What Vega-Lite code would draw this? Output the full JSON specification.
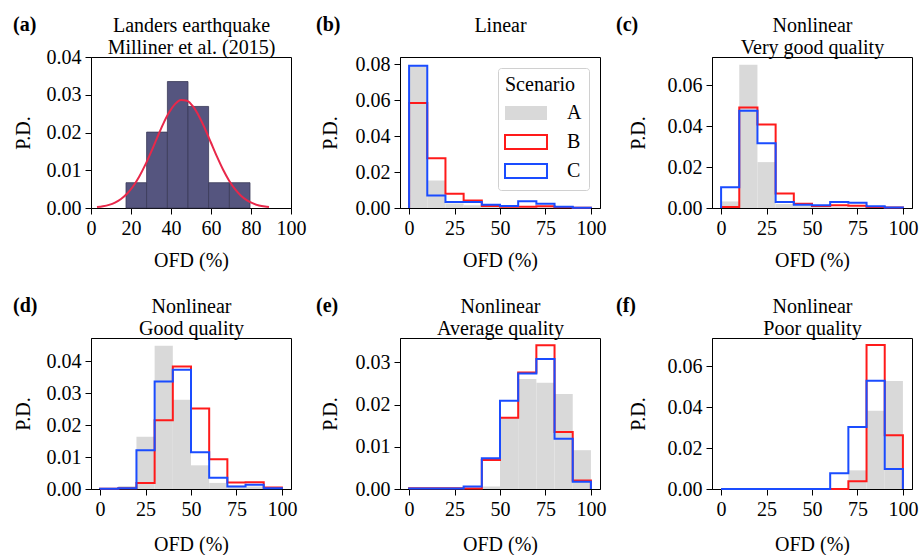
{
  "$schema": "https://vega.github.io/schema/vega-lite/v6.json",
  "padding": {"left": 12, "top": 14, "right": 0, "bottom": 0},
  "columns": 3,
  "spacing": {"row": 24, "column": 8},
  "resolve": {"scale": {"color": "independent", "fill": "independent", "stroke": "independent"}, "legend": {"color": "independent", "fill": "independent", "stroke": "independent"}},
  "datasets": {
    "land": [
      {"x": 17.5, "x2": 27.8, "y": 0.0067},
      {"x": 27.8, "x2": 38.2, "y": 0.0201},
      {"x": 38.2, "x2": 48.5, "y": 0.0335},
      {"x": 48.5, "x2": 58.8, "y": 0.0269},
      {"x": 58.8, "x2": 69.2, "y": 0.0067},
      {"x": 69.2, "x2": 79.5, "y": 0.0067}
    ],
    "curve": [
      {"x": 3, "y": 0.00024}, {"x": 6, "y": 0.00046}, {"x": 9, "y": 0.00083}, {"x": 12, "y": 0.00144},
      {"x": 15, "y": 0.00239}, {"x": 18, "y": 0.00377}, {"x": 21, "y": 0.00569}, {"x": 24, "y": 0.0082},
      {"x": 27, "y": 0.01128}, {"x": 30, "y": 0.0148}, {"x": 33, "y": 0.01853}, {"x": 36, "y": 0.02216},
      {"x": 39, "y": 0.02528}, {"x": 42, "y": 0.02753}, {"x": 45, "y": 0.02863}, {"x": 48, "y": 0.0284},
      {"x": 51, "y": 0.0269}, {"x": 54, "y": 0.02432}, {"x": 57, "y": 0.02099}, {"x": 60, "y": 0.01728},
      {"x": 63, "y": 0.01359}, {"x": 66, "y": 0.01019}, {"x": 69, "y": 0.0073}, {"x": 72, "y": 0.00499},
      {"x": 75, "y": 0.00326}, {"x": 78, "y": 0.00203}, {"x": 81, "y": 0.00121}, {"x": 84, "y": 0.00068},
      {"x": 87, "y": 0.00037}, {"x": 89, "y": 0.00024}
    ],
    "bars": [
      {"p": "b", "x": 0, "x2": 10, "y": 0.0795}, {"p": "b", "x": 10, "x2": 20, "y": 0.0153}, {"p": "b", "x": 20, "x2": 30, "y": 0.0025}, {"p": "b", "x": 30, "x2": 40, "y": 0.0015}, {"p": "b", "x": 40, "x2": 50, "y": 0.0008}, {"p": "b", "x": 50, "x2": 60, "y": 0.0005}, {"p": "b", "x": 60, "x2": 70, "y": 0.0004}, {"p": "b", "x": 70, "x2": 80, "y": 0.0003}, {"p": "b", "x": 80, "x2": 90, "y": 0.0002}, {"p": "b", "x": 90, "x2": 100, "y": 0.0001},
      {"p": "c", "x": 0, "x2": 10, "y": 0.0032}, {"p": "c", "x": 10, "x2": 20, "y": 0.0699}, {"p": "c", "x": 20, "x2": 30, "y": 0.0224}, {"p": "c", "x": 30, "x2": 40, "y": 0.002}, {"p": "c", "x": 40, "x2": 50, "y": 0.0012}, {"p": "c", "x": 50, "x2": 60, "y": 0.0005}, {"p": "c", "x": 60, "x2": 70, "y": 0.0004}, {"p": "c", "x": 70, "x2": 80, "y": 0.0003}, {"p": "c", "x": 80, "x2": 90, "y": 0.0001}, {"p": "c", "x": 90, "x2": 100, "y": 0.0001},
      {"p": "d", "x": 0, "x2": 10, "y": 0.0002}, {"p": "d", "x": 10, "x2": 20, "y": 0.0009}, {"p": "d", "x": 20, "x2": 30, "y": 0.0163}, {"p": "d", "x": 30, "x2": 40, "y": 0.0448}, {"p": "d", "x": 40, "x2": 50, "y": 0.0279}, {"p": "d", "x": 50, "x2": 60, "y": 0.0074}, {"p": "d", "x": 60, "x2": 70, "y": 0.0019}, {"p": "d", "x": 70, "x2": 80, "y": 0.0011}, {"p": "d", "x": 80, "x2": 90, "y": 0.0008}, {"p": "d", "x": 90, "x2": 100, "y": 0.0004},
      {"p": "e", "x": 0, "x2": 10, "y": 0.0001}, {"p": "e", "x": 10, "x2": 20, "y": 0.0001}, {"p": "e", "x": 20, "x2": 30, "y": 0.0001}, {"p": "e", "x": 30, "x2": 40, "y": 0.0003}, {"p": "e", "x": 40, "x2": 50, "y": 0.0006}, {"p": "e", "x": 50, "x2": 60, "y": 0.017}, {"p": "e", "x": 60, "x2": 70, "y": 0.0261}, {"p": "e", "x": 70, "x2": 80, "y": 0.0252}, {"p": "e", "x": 80, "x2": 90, "y": 0.0225}, {"p": "e", "x": 90, "x2": 100, "y": 0.0092},
      {"p": "f", "x": 0, "x2": 10, "y": 0}, {"p": "f", "x": 10, "x2": 20, "y": 0}, {"p": "f", "x": 20, "x2": 30, "y": 0}, {"p": "f", "x": 30, "x2": 40, "y": 0}, {"p": "f", "x": 40, "x2": 50, "y": 0}, {"p": "f", "x": 50, "x2": 60, "y": 0}, {"p": "f", "x": 60, "x2": 70, "y": 0}, {"p": "f", "x": 70, "x2": 80, "y": 0.0091}, {"p": "f", "x": 80, "x2": 90, "y": 0.0382}, {"p": "f", "x": 90, "x2": 100, "y": 0.0527}
    ],
    "steps": [
      {"p": "b", "s": "B", "k": 0, "x": 0, "y": 0}, {"p": "b", "s": "B", "k": 1, "x": 0, "y": 0.0584}, {"p": "b", "s": "B", "k": 2, "x": 10, "y": 0.0277}, {"p": "b", "s": "B", "k": 3, "x": 20, "y": 0.0079}, {"p": "b", "s": "B", "k": 4, "x": 30, "y": 0.0042}, {"p": "b", "s": "B", "k": 5, "x": 40, "y": 0.0011}, {"p": "b", "s": "B", "k": 6, "x": 50, "y": 0.0007}, {"p": "b", "s": "B", "k": 7, "x": 60, "y": 0.0007}, {"p": "b", "s": "B", "k": 8, "x": 70, "y": 0.001}, {"p": "b", "s": "B", "k": 9, "x": 80, "y": 0.0004}, {"p": "b", "s": "B", "k": 10, "x": 90, "y": 0.0002}, {"p": "b", "s": "B", "k": 11, "x": 100, "y": 0},
      {"p": "b", "s": "C", "k": 0, "x": 0, "y": 0}, {"p": "b", "s": "C", "k": 1, "x": 0, "y": 0.079}, {"p": "b", "s": "C", "k": 2, "x": 10, "y": 0.007}, {"p": "b", "s": "C", "k": 3, "x": 20, "y": 0.0033}, {"p": "b", "s": "C", "k": 4, "x": 30, "y": 0.0033}, {"p": "b", "s": "C", "k": 5, "x": 40, "y": 0.0018}, {"p": "b", "s": "C", "k": 6, "x": 50, "y": 0.0011}, {"p": "b", "s": "C", "k": 7, "x": 60, "y": 0.0037}, {"p": "b", "s": "C", "k": 8, "x": 70, "y": 0.0024}, {"p": "b", "s": "C", "k": 9, "x": 80, "y": 0.0007}, {"p": "b", "s": "C", "k": 10, "x": 90, "y": 0.0002}, {"p": "b", "s": "C", "k": 11, "x": 100, "y": 0},
      {"p": "c", "s": "B", "k": 0, "x": 0, "y": 0}, {"p": "c", "s": "B", "k": 1, "x": 0, "y": 0.0005}, {"p": "c", "s": "B", "k": 2, "x": 10, "y": 0.049}, {"p": "c", "s": "B", "k": 3, "x": 20, "y": 0.0407}, {"p": "c", "s": "B", "k": 4, "x": 30, "y": 0.0071}, {"p": "c", "s": "B", "k": 5, "x": 40, "y": 0.0021}, {"p": "c", "s": "B", "k": 6, "x": 50, "y": 0.001}, {"p": "c", "s": "B", "k": 7, "x": 60, "y": 0.0013}, {"p": "c", "s": "B", "k": 8, "x": 70, "y": 0.0011}, {"p": "c", "s": "B", "k": 9, "x": 80, "y": 0.0005}, {"p": "c", "s": "B", "k": 10, "x": 90, "y": 0.0002}, {"p": "c", "s": "B", "k": 11, "x": 100, "y": 0},
      {"p": "c", "s": "C", "k": 0, "x": 0, "y": 0}, {"p": "c", "s": "C", "k": 1, "x": 0, "y": 0.0101}, {"p": "c", "s": "C", "k": 2, "x": 10, "y": 0.0475}, {"p": "c", "s": "C", "k": 3, "x": 20, "y": 0.0316}, {"p": "c", "s": "C", "k": 4, "x": 30, "y": 0.0029}, {"p": "c", "s": "C", "k": 5, "x": 40, "y": 0.0016}, {"p": "c", "s": "C", "k": 6, "x": 50, "y": 0.0013}, {"p": "c", "s": "C", "k": 7, "x": 60, "y": 0.0029}, {"p": "c", "s": "C", "k": 8, "x": 70, "y": 0.0026}, {"p": "c", "s": "C", "k": 9, "x": 80, "y": 0.0008}, {"p": "c", "s": "C", "k": 10, "x": 90, "y": 0.0002}, {"p": "c", "s": "C", "k": 11, "x": 100, "y": 0},
      {"p": "d", "s": "B", "k": 0, "x": 0, "y": 0}, {"p": "d", "s": "B", "k": 1, "x": 0, "y": 0.0001}, {"p": "d", "s": "B", "k": 2, "x": 10, "y": 0.0002}, {"p": "d", "s": "B", "k": 3, "x": 20, "y": 0.0019}, {"p": "d", "s": "B", "k": 4, "x": 30, "y": 0.0215}, {"p": "d", "s": "B", "k": 5, "x": 40, "y": 0.0383}, {"p": "d", "s": "B", "k": 6, "x": 50, "y": 0.0252}, {"p": "d", "s": "B", "k": 7, "x": 60, "y": 0.0093}, {"p": "d", "s": "B", "k": 8, "x": 70, "y": 0.002}, {"p": "d", "s": "B", "k": 9, "x": 80, "y": 0.0021}, {"p": "d", "s": "B", "k": 10, "x": 90, "y": 0.0005}, {"p": "d", "s": "B", "k": 11, "x": 100, "y": 0},
      {"p": "d", "s": "C", "k": 0, "x": 0, "y": 0}, {"p": "d", "s": "C", "k": 1, "x": 0, "y": 0.0001}, {"p": "d", "s": "C", "k": 2, "x": 10, "y": 0.0002}, {"p": "d", "s": "C", "k": 3, "x": 20, "y": 0.0121}, {"p": "d", "s": "C", "k": 4, "x": 30, "y": 0.0336}, {"p": "d", "s": "C", "k": 5, "x": 40, "y": 0.0373}, {"p": "d", "s": "C", "k": 6, "x": 50, "y": 0.0115}, {"p": "d", "s": "C", "k": 7, "x": 60, "y": 0.0035}, {"p": "d", "s": "C", "k": 8, "x": 70, "y": 0.0008}, {"p": "d", "s": "C", "k": 9, "x": 80, "y": 0.0013}, {"p": "d", "s": "C", "k": 10, "x": 90, "y": 0.0002}, {"p": "d", "s": "C", "k": 11, "x": 100, "y": 0},
      {"p": "e", "s": "B", "k": 0, "x": 0, "y": 0}, {"p": "e", "s": "B", "k": 1, "x": 0, "y": 0.0002}, {"p": "e", "s": "B", "k": 2, "x": 10, "y": 0.0002}, {"p": "e", "s": "B", "k": 3, "x": 20, "y": 0.0002}, {"p": "e", "s": "B", "k": 4, "x": 30, "y": 0.0001}, {"p": "e", "s": "B", "k": 5, "x": 40, "y": 0.0069}, {"p": "e", "s": "B", "k": 6, "x": 50, "y": 0.0169}, {"p": "e", "s": "B", "k": 7, "x": 60, "y": 0.0276}, {"p": "e", "s": "B", "k": 8, "x": 70, "y": 0.0341}, {"p": "e", "s": "B", "k": 9, "x": 80, "y": 0.0135}, {"p": "e", "s": "B", "k": 10, "x": 90, "y": 0.002}, {"p": "e", "s": "B", "k": 11, "x": 100, "y": 0},
      {"p": "e", "s": "C", "k": 0, "x": 0, "y": 0}, {"p": "e", "s": "C", "k": 1, "x": 0, "y": 0.0001}, {"p": "e", "s": "C", "k": 2, "x": 10, "y": 0.0001}, {"p": "e", "s": "C", "k": 3, "x": 20, "y": 0.0001}, {"p": "e", "s": "C", "k": 4, "x": 30, "y": 0.0006}, {"p": "e", "s": "C", "k": 5, "x": 40, "y": 0.0073}, {"p": "e", "s": "C", "k": 6, "x": 50, "y": 0.0209}, {"p": "e", "s": "C", "k": 7, "x": 60, "y": 0.0274}, {"p": "e", "s": "C", "k": 8, "x": 70, "y": 0.0308}, {"p": "e", "s": "C", "k": 9, "x": 80, "y": 0.0119}, {"p": "e", "s": "C", "k": 10, "x": 90, "y": 0.0017}, {"p": "e", "s": "C", "k": 11, "x": 100, "y": 0},
      {"p": "f", "s": "B", "k": 0, "x": 0, "y": 0}, {"p": "f", "s": "B", "k": 1, "x": 0, "y": 0}, {"p": "f", "s": "B", "k": 2, "x": 10, "y": 0}, {"p": "f", "s": "B", "k": 3, "x": 20, "y": 0}, {"p": "f", "s": "B", "k": 4, "x": 30, "y": 0}, {"p": "f", "s": "B", "k": 5, "x": 40, "y": 0}, {"p": "f", "s": "B", "k": 6, "x": 50, "y": 0}, {"p": "f", "s": "B", "k": 7, "x": 60, "y": 0}, {"p": "f", "s": "B", "k": 8, "x": 70, "y": 0.0038}, {"p": "f", "s": "B", "k": 9, "x": 80, "y": 0.0703}, {"p": "f", "s": "B", "k": 10, "x": 90, "y": 0.0262}, {"p": "f", "s": "B", "k": 11, "x": 100, "y": 0},
      {"p": "f", "s": "C", "k": 0, "x": 0, "y": 0}, {"p": "f", "s": "C", "k": 1, "x": 0, "y": 0}, {"p": "f", "s": "C", "k": 2, "x": 10, "y": 0}, {"p": "f", "s": "C", "k": 3, "x": 20, "y": 0}, {"p": "f", "s": "C", "k": 4, "x": 30, "y": 0}, {"p": "f", "s": "C", "k": 5, "x": 40, "y": 0}, {"p": "f", "s": "C", "k": 6, "x": 50, "y": 0}, {"p": "f", "s": "C", "k": 7, "x": 60, "y": 0.0077}, {"p": "f", "s": "C", "k": 8, "x": 70, "y": 0.0303}, {"p": "f", "s": "C", "k": 9, "x": 80, "y": 0.0528}, {"p": "f", "s": "C", "k": 10, "x": 90, "y": 0.0098}, {"p": "f", "s": "C", "k": 11, "x": 100, "y": 0}
    ]
  },
  "concat": [
    {
      "width": 200, "height": 151,
      "title": {"text": "(a)", "dy": 24},
      "layer": [
        {"data": {"name": "land"},
         "mark": {"type": "rect", "fill": "#55557f", "stroke": "#3a3a58", "strokeWidth": 0.8},
         "encoding": {
           "x": {"field": "x", "type": "quantitative", "scale": {"domain": [0, 100], "nice": false, "zero": false}, "axis": {"title": "OFD (%)", "titlePadding": 12, "values": [0, 20, 40, 60, 80, 100]}},
           "x2": {"field": "x2"},
           "y": {"field": "y", "type": "quantitative", "scale": {"domain": [0, 0.04], "nice": false}, "axis": {"title": "P.D.", "titlePadding": 13, "values": [0, 0.01, 0.02, 0.03, 0.04], "format": ".2f", "labelOverlap": false, "labelSeparation": -40}},
           "y2": {"datum": 0}}},
        {"data": {"name": "curve"},
         "mark": {"type": "line", "stroke": "#e8284a", "strokeWidth": 2, "interpolate": "monotone"},
         "encoding": {
           "x": {"field": "x", "type": "quantitative", "scale": {"domain": [0, 100], "nice": false, "zero": false}, "axis": {"orient": "top", "title": ["Landers earthquake", "Milliner et al. (2015)"], "labels": false, "ticks": false, "domain": false, "titlePadding": 0, "titleLineHeight": 22}},
           "y": {"field": "y", "type": "quantitative", "scale": {"domain": [0, 0.04], "nice": false}, "axis": {"title": "P.D.", "titlePadding": 13, "values": [0, 0.01, 0.02, 0.03, 0.04], "format": ".2f", "labelOverlap": false, "labelSeparation": -40}}}}
      ],
      "resolve": {"axis": {"x": "independent"}}
    },
    {
      "width": 200, "height": 151,
      "title": {"text": "(b)", "dy": 24, "dx": -4},
      "layer": [
        {"data": {"name": "bars"}, "transform": [{"filter": "datum.p === 'b'"}],
         "mark": {"type": "rect"},
         "encoding": {
           "x": {"field": "x", "type": "quantitative", "scale": {"domain": [-5, 105], "nice": false, "zero": false}, "axis": {"title": "OFD (%)", "titlePadding": 12, "values": [0, 25, 50, 75, 100]}},
           "x2": {"field": "x2"},
           "y": {"field": "y", "type": "quantitative", "scale": {"domain": [0, 0.0839], "nice": false}, "axis": {"title": "P.D.", "titlePadding": 15, "values": [0, 0.02, 0.04, 0.06, 0.08], "format": ".2f", "labelOverlap": false, "labelSeparation": -40}},
           "y2": {"datum": 0},
           "fill": {"datum": "A", "type": "nominal",
             "scale": {"domain": ["A", "B", "C"], "range": ["#d9d9d9", "transparent", "transparent"]},
             "legend": {"title": "Scenario", "orient": "top-right", "offset": 11,
               "symbolType": "M-1.615,-0.54H1.615V0.54H-1.615Z", "symbolSize": 676, "symbolStrokeWidth": 2,
               "symbolOffset": 7, "labelOffset": 27, "padding": 7, "rowPadding": 3, "titlePadding": 4,
               "fillColor": "white", "strokeColor": "#d0d0d0", "cornerRadius": 3}}}},
        {"data": {"name": "steps"}, "transform": [{"filter": "datum.p === 'b'"}],
         "mark": {"type": "line", "interpolate": "step-after", "strokeWidth": 2},
         "encoding": {
           "x": {"field": "x", "type": "quantitative", "scale": {"domain": [-5, 105], "nice": false, "zero": false}, "axis": {"orient": "top", "title": ["Linear", " "], "labels": false, "ticks": false, "domain": false, "titlePadding": 0, "titleLineHeight": 22}},
           "y": {"field": "y", "type": "quantitative", "scale": {"domain": [0, 0.0839], "nice": false}, "axis": {"title": "P.D.", "titlePadding": 15, "values": [0, 0.02, 0.04, 0.06, 0.08], "format": ".2f", "labelOverlap": false, "labelSeparation": -40}},
           "order": {"field": "k"},
           "stroke": {"field": "s", "type": "nominal",
             "scale": {"domain": ["A", "B", "C"], "range": ["transparent", "#ff1a1a", "#1a4cff"]},
             "legend": {"title": "Scenario", "orient": "top-right", "offset": 11,
               "symbolType": "M-1.615,-0.54H1.615V0.54H-1.615Z", "symbolSize": 676, "symbolStrokeWidth": 2,
               "symbolOffset": 7, "labelOffset": 27, "padding": 7, "rowPadding": 3, "titlePadding": 4,
               "fillColor": "white", "strokeColor": "#d0d0d0", "cornerRadius": 3}}}}
      ],
      "resolve": {"axis": {"x": "independent"}}
    },
    {
      "width": 200, "height": 151,
      "title": {"text": "(c)", "dy": 24, "dx": -12},
      "layer": [
        {"data": {"name": "bars"}, "transform": [{"filter": "datum.p === 'c'"}],
         "mark": {"type": "rect", "fill": "#d9d9d9"},
         "encoding": {
           "x": {"field": "x", "type": "quantitative", "scale": {"domain": [-5, 105], "nice": false, "zero": false}, "axis": {"title": "OFD (%)", "titlePadding": 12, "values": [0, 25, 50, 75, 100]}},
           "x2": {"field": "x2"},
           "y": {"field": "y", "type": "quantitative", "scale": {"domain": [0, 0.0737], "nice": false}, "axis": {"title": "P.D.", "titlePadding": 19, "values": [0, 0.02, 0.04, 0.06], "format": ".2f", "labelOverlap": false, "labelSeparation": -40}},
           "y2": {"datum": 0}}},
        {"data": {"name": "steps"}, "transform": [{"filter": "datum.p === 'c'"}],
         "mark": {"type": "line", "interpolate": "step-after", "strokeWidth": 2},
         "encoding": {
           "x": {"field": "x", "type": "quantitative", "scale": {"domain": [-5, 105], "nice": false, "zero": false}, "axis": {"orient": "top", "title": ["Nonlinear", "Very good quality"], "labels": false, "ticks": false, "domain": false, "titlePadding": 0, "titleLineHeight": 22}},
           "y": {"field": "y", "type": "quantitative", "scale": {"domain": [0, 0.0737], "nice": false}, "axis": {"title": "P.D.", "titlePadding": 19, "values": [0, 0.02, 0.04, 0.06], "format": ".2f", "labelOverlap": false, "labelSeparation": -40}},
           "order": {"field": "k"},
           "color": {"field": "s", "type": "nominal", "scale": {"domain": ["A", "B", "C"], "range": ["#d9d9d9", "#ff1a1a", "#1a4cff"]}, "legend": null}}}
      ],
      "resolve": {"axis": {"x": "independent"}}
    },
    {
      "width": 200, "height": 151,
      "title": {"text": "(d)", "dy": 24},
      "layer": [
        {"data": {"name": "bars"}, "transform": [{"filter": "datum.p === 'd'"}],
         "mark": {"type": "rect", "fill": "#d9d9d9"},
         "encoding": {
           "x": {"field": "x", "type": "quantitative", "scale": {"domain": [-5, 105], "nice": false, "zero": false}, "axis": {"title": "OFD (%)", "values": [0, 25, 50, 75, 100]}},
           "x2": {"field": "x2"},
           "y": {"field": "y", "type": "quantitative", "scale": {"domain": [0, 0.0472], "nice": false}, "axis": {"title": "P.D.", "titlePadding": 13, "values": [0, 0.01, 0.02, 0.03, 0.04], "format": ".2f", "labelOverlap": false, "labelSeparation": -40}},
           "y2": {"datum": 0}}},
        {"data": {"name": "steps"}, "transform": [{"filter": "datum.p === 'd'"}],
         "mark": {"type": "line", "interpolate": "step-after", "strokeWidth": 2},
         "encoding": {
           "x": {"field": "x", "type": "quantitative", "scale": {"domain": [-5, 105], "nice": false, "zero": false}, "axis": {"orient": "top", "title": ["Nonlinear", "Good quality"], "labels": false, "ticks": false, "domain": false, "titlePadding": 0, "titleLineHeight": 22}},
           "y": {"field": "y", "type": "quantitative", "scale": {"domain": [0, 0.0472], "nice": false}, "axis": {"title": "P.D.", "titlePadding": 13, "values": [0, 0.01, 0.02, 0.03, 0.04], "format": ".2f", "labelOverlap": false, "labelSeparation": -40}},
           "order": {"field": "k"},
           "color": {"field": "s", "type": "nominal", "scale": {"domain": ["A", "B", "C"], "range": ["#d9d9d9", "#ff1a1a", "#1a4cff"]}, "legend": null}}}
      ],
      "resolve": {"axis": {"x": "independent"}}
    },
    {
      "width": 200, "height": 151,
      "title": {"text": "(e)", "dy": 24, "dx": -4},
      "layer": [
        {"data": {"name": "bars"}, "transform": [{"filter": "datum.p === 'e'"}],
         "mark": {"type": "rect", "fill": "#d9d9d9"},
         "encoding": {
           "x": {"field": "x", "type": "quantitative", "scale": {"domain": [-5, 105], "nice": false, "zero": false}, "axis": {"title": "OFD (%)", "values": [0, 25, 50, 75, 100]}},
           "x2": {"field": "x2"},
           "y": {"field": "y", "type": "quantitative", "scale": {"domain": [0, 0.0358], "nice": false}, "axis": {"title": "P.D.", "titlePadding": 15, "values": [0, 0.01, 0.02, 0.03], "format": ".2f", "labelOverlap": false, "labelSeparation": -40}},
           "y2": {"datum": 0}}},
        {"data": {"name": "steps"}, "transform": [{"filter": "datum.p === 'e'"}],
         "mark": {"type": "line", "interpolate": "step-after", "strokeWidth": 2},
         "encoding": {
           "x": {"field": "x", "type": "quantitative", "scale": {"domain": [-5, 105], "nice": false, "zero": false}, "axis": {"orient": "top", "title": ["Nonlinear", "Average quality"], "labels": false, "ticks": false, "domain": false, "titlePadding": 0, "titleLineHeight": 22}},
           "y": {"field": "y", "type": "quantitative", "scale": {"domain": [0, 0.0358], "nice": false}, "axis": {"title": "P.D.", "titlePadding": 15, "values": [0, 0.01, 0.02, 0.03], "format": ".2f", "labelOverlap": false, "labelSeparation": -40}},
           "order": {"field": "k"},
           "color": {"field": "s", "type": "nominal", "scale": {"domain": ["A", "B", "C"], "range": ["#d9d9d9", "#ff1a1a", "#1a4cff"]}, "legend": null}}}
      ],
      "resolve": {"axis": {"x": "independent"}}
    },
    {
      "width": 200, "height": 151,
      "title": {"text": "(f)", "dy": 24, "dx": -12},
      "layer": [
        {"data": {"name": "bars"}, "transform": [{"filter": "datum.p === 'f'"}],
         "mark": {"type": "rect", "fill": "#d9d9d9"},
         "encoding": {
           "x": {"field": "x", "type": "quantitative", "scale": {"domain": [-5, 105], "nice": false, "zero": false}, "axis": {"title": "OFD (%)", "values": [0, 25, 50, 75, 100]}},
           "x2": {"field": "x2"},
           "y": {"field": "y", "type": "quantitative", "scale": {"domain": [0, 0.0737], "nice": false}, "axis": {"title": "P.D.", "titlePadding": 19, "values": [0, 0.02, 0.04, 0.06], "format": ".2f", "labelOverlap": false, "labelSeparation": -40}},
           "y2": {"datum": 0}}},
        {"data": {"name": "steps"}, "transform": [{"filter": "datum.p === 'f'"}],
         "mark": {"type": "line", "interpolate": "step-after", "strokeWidth": 2},
         "encoding": {
           "x": {"field": "x", "type": "quantitative", "scale": {"domain": [-5, 105], "nice": false, "zero": false}, "axis": {"orient": "top", "title": ["Nonlinear", "Poor quality"], "labels": false, "ticks": false, "domain": false, "titlePadding": 0, "titleLineHeight": 22}},
           "y": {"field": "y", "type": "quantitative", "scale": {"domain": [0, 0.0737], "nice": false}, "axis": {"title": "P.D.", "titlePadding": 19, "values": [0, 0.02, 0.04, 0.06], "format": ".2f", "labelOverlap": false, "labelSeparation": -40}},
           "order": {"field": "k"},
           "color": {"field": "s", "type": "nominal", "scale": {"domain": ["A", "B", "C"], "range": ["#d9d9d9", "#ff1a1a", "#1a4cff"]}, "legend": null}}}
      ],
      "resolve": {"axis": {"x": "independent"}}
    }
  ],
  "config": {
    "font": "Liberation Serif, DejaVu Serif, serif",
    "view": {"stroke": "black", "strokeWidth": 1},
    "axis": {"labelFont": "Liberation Serif, DejaVu Serif, serif", "labelFontSize": 20, "labelColor": "black", "titleFont": "Liberation Serif, DejaVu Serif, serif", "titleFontSize": 20, "titleFontWeight": "normal", "titleColor": "black", "domainColor": "black", "tickColor": "black", "tickSize": 6, "grid": false, "labelPadding": 4, "labelFlush": false, "labelOverlap": false},
    "axisX": {"titlePadding": 15},
    "axisY": {"labelOverlap": false},
    "legend": {"titleFont": "Liberation Serif, DejaVu Serif, serif", "titleFontSize": 20, "titleFontWeight": "normal", "titleColor": "black", "labelFont": "Liberation Serif, DejaVu Serif, serif", "labelFontSize": 20, "labelColor": "black"},
    "title": {"font": "Liberation Serif, DejaVu Serif, serif", "fontSize": 20, "fontWeight": "bold", "anchor": "start", "frame": "bounds", "offset": 0, "color": "black"}
  }
}
